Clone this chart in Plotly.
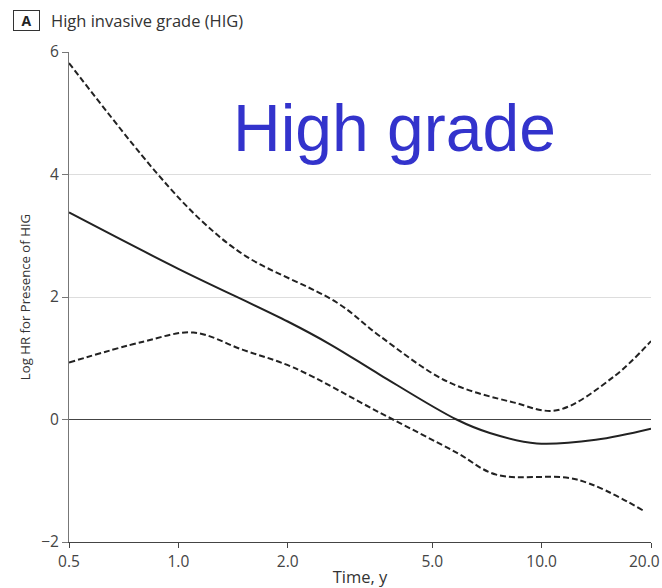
import math
import plotly.graph_objects as go

# Data
t_mid = [0.5, 1.0, 2.0, 2.63, 3.59, 5.83, 7.2, 9.7, 14.1, 20.0]
v_mid = [3.38, 2.46, 1.6, 1.22, 0.73, 0.0, -0.22, -0.39, -0.33, -0.15]

t_up = [0.5, 0.87, 1.17, 1.54, 2.73, 3.59, 5.5, 8.35, 11.0, 15.8, 20.0]
v_up = [5.82, 4.03, 3.22, 2.66, 1.91, 1.36, 0.62, 0.28, 0.15, 0.70, 1.28]

t_lo = [0.5, 0.8, 1.1, 1.5, 2.07, 3.59, 5.83, 7.5, 12.5, 19.2]
v_lo = [0.93, 1.27, 1.42, 1.14, 0.85, 0.11, -0.54, -0.9, -0.98, -1.5]

x_ticks = [0.5, 1.0, 2.0, 5.0, 10.0, 20.0]
x_ticklabels = ["0.5", "1.0", "2.0", "5.0", "10.0", "20.0"]
y_ticks = [-2, 0, 2, 4, 6]

FONT = "Open Sans, Noto Sans, sans-serif"

fig = go.Figure()
line_col = "#222222"
fig.add_trace(go.Scatter(x=t_up, y=v_up, mode="lines",
                         line=dict(color=line_col, width=2, dash="6px,3px", shape="spline", smoothing=1.0),
                         showlegend=False, hoverinfo="skip", cliponaxis=False))
fig.add_trace(go.Scatter(x=t_lo, y=v_lo, mode="lines",
                         line=dict(color=line_col, width=2, dash="6px,3px", shape="spline", smoothing=1.0),
                         showlegend=False, hoverinfo="skip", cliponaxis=False))
fig.add_trace(go.Scatter(x=t_mid, y=v_mid, mode="lines",
                         line=dict(color=line_col, width=2, shape="spline", smoothing=1.0),
                         showlegend=False, hoverinfo="skip", cliponaxis=False))

tick_font = dict(family=FONT, size=15.5, color="#444444")

# last x tick label sits flush against the right edge (as in the reference)
axis_ticktext = x_ticklabels[:-1] + [""]
last_label = dict(text=x_ticklabels[-1], xref="x", yref="paper",
                  x=math.log10(x_ticks[-1]), y=0, xanchor="right", yanchor="top",
                  xshift=10, yshift=-7, showarrow=False, borderpad=0,
                  font=tick_font)

fig.update_layout(
    width=662, height=588,
    margin=dict(l=69, r=11, t=52, b=46),
    paper_bgcolor="white", plot_bgcolor="white",
    xaxis=dict(
        type="log", range=[-0.30104, 1.30104],
        tickvals=x_ticks, ticktext=axis_ticktext,
        ticks="outside", ticklen=5, tickcolor="#444444",
        showline=True, linecolor="#444444", linewidth=1,
        showgrid=False, zeroline=False, automargin=False,
        tickfont=tick_font,
        title=dict(text="Time, y", font=dict(family=FONT, size=16.5, color="#333333"), standoff=16),
    ),
    yaxis=dict(
        range=[-2, 6],
        tickvals=y_ticks,
        ticks="outside", ticklen=6, tickcolor="#777777",
        showline=True, linecolor="#777777", linewidth=1,
        showgrid=True, gridcolor="#dddddd", gridwidth=1,
        zeroline=True, zerolinecolor="#444444", zerolinewidth=1,
        automargin=False,
        tickfont=tick_font,
        title=dict(text="Log HR for Presence of HIG", font=dict(family=FONT, size=13.2, color="#333333"), standoff=7),
    ),
    annotations=[
        dict(text="<b>A</b>", xref="paper", yref="paper", x=-0.0962, y=1.0653,
             xanchor="left", yanchor="middle", showarrow=False,
             width=25, height=19, align="center", valign="middle",
             font=dict(family=FONT, size=14, color="#222222"),
             bordercolor="#333333", borderwidth=1, borderpad=0),
        dict(text="High invasive grade (HIG)", xref="paper", yref="paper", x=-0.0344, y=1.0653,
             xanchor="left", yanchor="middle", showarrow=False,
             font=dict(family=FONT, size=16.5, color="#333333")),
        dict(text="High grade", xref="paper", yref="paper", x=0.56, y=0.845,
             xanchor="center", yanchor="middle", showarrow=False,
             font=dict(family="Liberation Sans, Arial, sans-serif", size=66, color="#3333cc")),
        last_label,
    ],
)

fig.write_html("out.html")
